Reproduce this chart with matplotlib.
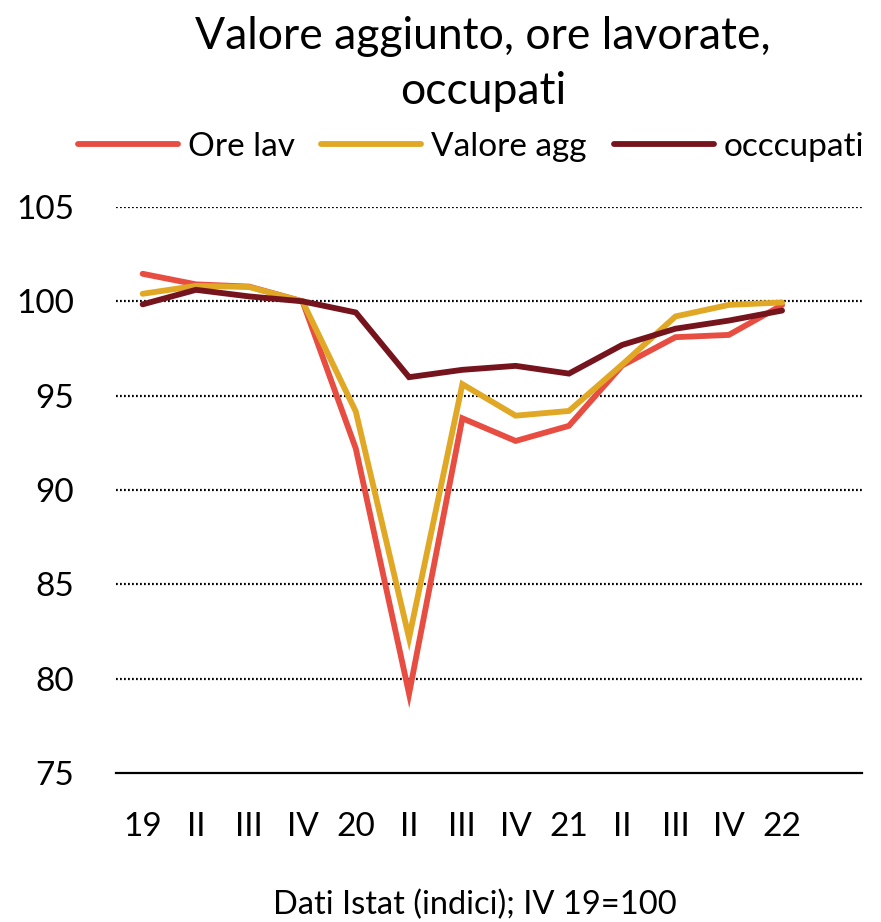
import matplotlib
matplotlib.use("Agg")
import matplotlib.pyplot as plt
from matplotlib.lines import Line2D

plt.rcParams['font.family'] = ['Lato', 'DejaVu Sans']

categories = ["19", "II", "III", "IV", "20", "II", "III", "IV", "21", "II", "III", "IV", "22", ""]
ore_lav = [101.46, 100.9, 100.78, 100.0, 92.2, 79.2, 93.8, 92.6, 93.4, 96.6, 98.1, 98.22, 99.8]
valore_agg = [100.4, 100.82, 100.76, 100.0, 94.16, 82.16, 95.61, 93.94, 94.19, 96.65, 99.2, 99.81, 99.94]
occupati = [99.84, 100.61, 100.26, 100.0, 99.41, 95.98, 96.37, 96.58, 96.17, 97.69, 98.55, 98.98, 99.51]
yticks = [75, 80, 85, 90, 95, 100, 105]

c_red = "#E84D42"
c_yel = "#E0A825"
c_dark = "#76141D"

fig = plt.figure(figsize=(8.81, 9.22), dpi=100)
ax = fig.add_axes([116/881, 1-773/922, (862-116)/881, (773-207)/922])

x = list(range(len(ore_lav)))
lw = 4.2
ax.plot(x, ore_lav, color=c_red, lw=lw, solid_joinstyle='miter', solid_capstyle='round', label="Ore lav", zorder=3)
ax.plot(x, valore_agg, color=c_yel, lw=lw, solid_joinstyle='miter', solid_capstyle='round', label="Valore agg", zorder=4)
ax.plot(x, occupati, color=c_dark, lw=lw, solid_joinstyle='miter', solid_capstyle='round', label="occcupati", zorder=5)

ax.set_xlim(-0.5, len(categories) - 0.5)
ax.set_ylim(75, 105)
ax.set_xticks(range(len(categories)))
ax.set_xticklabels(categories, fontsize=24)
ax.set_yticks(yticks)
ax.set_yticklabels([str(v) for v in yticks], fontsize=24)
ax.tick_params(axis='both', length=0, colors='black')
ax.tick_params(axis='x', pad=28)
ax.tick_params(axis='y', pad=30)
for v in yticks[1:]:
    ax.axhline(v, color="black", lw=1.6, ls=(0, (0.8, 1.0)), zorder=1)
for s in ["top", "right", "left"]:
    ax.spines[s].set_visible(False)
ax.spines["bottom"].set_linewidth(1.6)
ax.spines["bottom"].set_color("black")

fig.text(483/881, 1-64/922, "Valore aggiunto, ore lavorate,\noccupati", ha="center", va="center",
         fontsize=32, linespacing=1.45)

handles = [Line2D([0], [0], color=c, lw=lw, solid_capstyle='round') for c in (c_red, c_yel, c_dark)]
fig.legend(handles, ["Ore lav", "Valore agg", "occcupati"], loc="center", bbox_to_anchor=(471/881, 1-147/922),
           ncol=3, frameon=False, handlelength=3.0, columnspacing=0.8, handletextpad=0.3,
           prop={'size': 24})

fig.text(475/881, 1-905/922, "Dati Istat (indici); IV 19=100", ha="center", va="center", fontsize=23.5)

fig.savefig("out.png", dpi=100)
